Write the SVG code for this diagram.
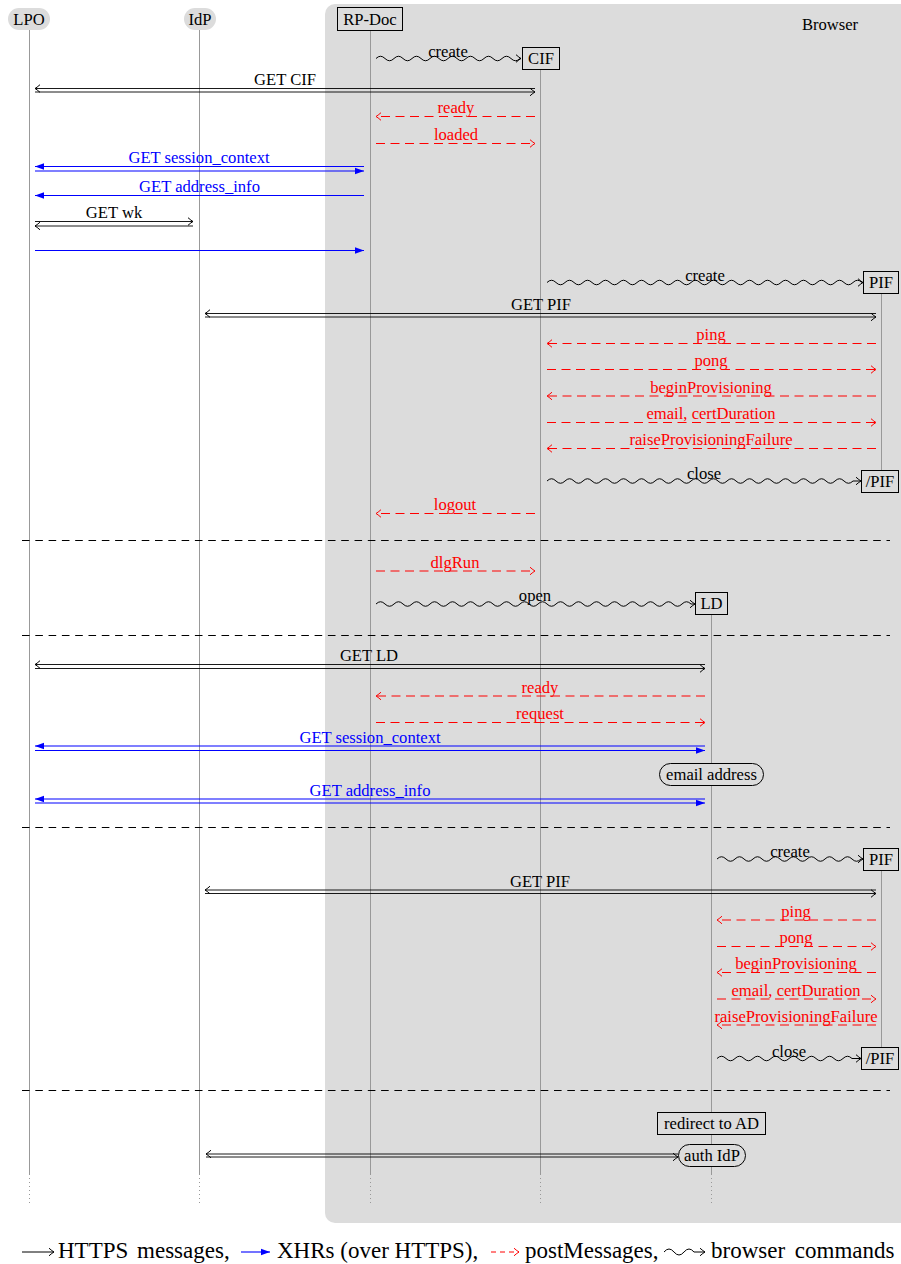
<svg xmlns="http://www.w3.org/2000/svg" width="901" height="1264" viewBox="0 0 901 1264">
<style>
text{font-family:'Liberation Serif','DejaVu Serif',serif;font-size:16.6px;fill:#000;text-anchor:middle}
.r{fill:#f00}
.b{fill:#00f}
.lg{font-size:23px;text-anchor:start}
.life{stroke:#999;stroke-width:1;fill:none}
.dot{stroke:#999;stroke-width:1;stroke-dasharray:1 3;fill:none}
.http{stroke:#000;stroke-width:0.9;fill:none;marker-end:url(#ak)}
.xhr{stroke:#00f;stroke-width:1.1;fill:none;marker-end:url(#ab)}
.pm{stroke:#f00;stroke-width:1;stroke-dasharray:9 5.5;fill:none;marker-end:url(#ar)}
.wave{stroke:#000;stroke-width:1;fill:none;marker-end:url(#ak)}
.sep{stroke:#000;stroke-width:1;stroke-dasharray:7.6 5.7;fill:none}
.box{fill:#dcdcdc;stroke:#000;stroke-width:1}
.pill{fill:#dcdcdc}
</style>
<defs>
<marker id="ak" markerUnits="userSpaceOnUse" viewBox="-7 -6 8 12" refX="0" refY="0" markerWidth="8" markerHeight="12" orient="auto" overflow="visible"><path d="M-5,-3.8 Q-1.8,-1 0,0 Q-1.8,1 -5,3.8" fill="none" stroke="#000" stroke-width="1"/></marker>
<marker id="ar" markerUnits="userSpaceOnUse" viewBox="-7 -6 8 12" refX="0" refY="0" markerWidth="8" markerHeight="12" orient="auto" overflow="visible"><path d="M-5,-3.8 Q-1.8,-1 0,0 Q-1.8,1 -5,3.8" fill="none" stroke="#f00" stroke-width="1"/></marker>
<marker id="ab" markerUnits="userSpaceOnUse" viewBox="-10 -5 11 10" refX="0" refY="0" markerWidth="11" markerHeight="10" orient="auto" overflow="visible"><path d="M-9,-3.2 L0,0 L-9,3.2 Z" fill="#00f"/></marker>
</defs>
<rect width="901" height="1264" fill="#fff"/>
<g id="browser">
<rect x="325" y="4" width="620" height="1219" rx="10" fill="#dcdcdc"/>
<text x="830" y="30">Browser</text>
</g>
<g id="lifelines">
<path class="life" d="M29.5,30V1175M199.5,30V1175M370.5,31V1175M540.5,70V1175M711.5,614V1175M881.5,294V470M881.5,871V1047"/>
<path class="dot" d="M29.5,1178V1203M199.5,1178V1203M370.5,1178V1203M540.5,1178V1203M711.5,1178V1203"/>
</g>
<g id="separators">
<path class="sep" d="M22,540.5H890M22,635.5H890M22,827.5H890M22,1090.5H890"/>
</g>
<g id="connectors">
<path class="wave" d="M376,58.5 q4.5,-4.5 9,0 t9,0 t9,0 t9,0 t9,0 t9,0 t9,0 t9,0 t9,0 t9,0 t9,0 t9,0 t9,0 t9,0 t9,0 t9,0 L521,58.5"/>
<path class="http" d="M535,88.5H35"/><path class="http" d="M35,92H535"/>
<path class="pm" d="M535,116.5H376"/>
<path class="pm" d="M376,143.5H535"/>
<path class="xhr" d="M364,166.5H35"/><path class="xhr" d="M35,171H364"/>
<path class="xhr" d="M364,195.5H35"/>
<path class="http" d="M35,221.5H193"/><path class="http" d="M193,226H35"/>
<path class="xhr" d="M35,250.5H364"/>
<path class="wave" d="M547,282.5 q4.5,-4.5 9,0 t9,0 t9,0 t9,0 t9,0 t9,0 t9,0 t9,0 t9,0 t9,0 t9,0 t9,0 t9,0 t9,0 t9,0 t9,0 t9,0 t9,0 t9,0 t9,0 t9,0 t9,0 t9,0 t9,0 t9,0 t9,0 t9,0 t9,0 t9,0 t9,0 t9,0 t9,0 t9,0 t9,0 t9,0 L863,282.5"/>
<path class="http" d="M876,313.5H205"/><path class="http" d="M205,317H876"/>
<path class="pm" d="M876,343.5H547"/>
<path class="pm" d="M547,369.5H876"/>
<path class="pm" d="M876,396H547"/>
<path class="pm" d="M547,422.5H876"/>
<path class="pm" d="M876,448.5H547"/>
<path class="wave" d="M547,481 q4.5,-4.5 9,0 t9,0 t9,0 t9,0 t9,0 t9,0 t9,0 t9,0 t9,0 t9,0 t9,0 t9,0 t9,0 t9,0 t9,0 t9,0 t9,0 t9,0 t9,0 t9,0 t9,0 t9,0 t9,0 t9,0 t9,0 t9,0 t9,0 t9,0 t9,0 t9,0 t9,0 t9,0 t9,0 t9,0 L861,481"/>
<path class="pm" d="M535,513.5H376"/>
<path class="pm" d="M376,571H535"/>
<path class="wave" d="M376,604 q4.5,-4.5 9,0 t9,0 t9,0 t9,0 t9,0 t9,0 t9,0 t9,0 t9,0 t9,0 t9,0 t9,0 t9,0 t9,0 t9,0 t9,0 t9,0 t9,0 t9,0 t9,0 t9,0 t9,0 t9,0 t9,0 t9,0 t9,0 t9,0 t9,0 t9,0 t9,0 t9,0 t9,0 t9,0 t9,0 t9,0 L695,604"/>
<path class="http" d="M705,664.5H35"/><path class="http" d="M35,668.5H705"/>
<path class="pm" d="M705,696H376"/>
<path class="pm" d="M376,722.5H705"/>
<path class="xhr" d="M705,746H35"/><path class="xhr" d="M35,750.5H705"/>
<path class="xhr" d="M705,799H35"/><path class="xhr" d="M35,803H705"/>
<path class="wave" d="M717,859 q4.5,-4.5 9,0 t9,0 t9,0 t9,0 t9,0 t9,0 t9,0 t9,0 t9,0 t9,0 t9,0 t9,0 t9,0 t9,0 t9,0 t9,0 L863,859"/>
<path class="http" d="M876,890H205"/><path class="http" d="M205,893.5H876"/>
<path class="pm" d="M876,920H717"/>
<path class="pm" d="M717,946.5H876"/>
<path class="pm" d="M876,972.5H717"/>
<path class="pm" d="M717,999H876"/>
<path class="pm" d="M876,1025H717"/>
<path class="wave" d="M717,1058.5 q4.5,-4.5 9,0 t9,0 t9,0 t9,0 t9,0 t9,0 t9,0 t9,0 t9,0 t9,0 t9,0 t9,0 t9,0 t9,0 t9,0 L861,1058.5"/>
<path class="http" d="M678,1154H206"/><path class="http" d="M206,1157H678"/>
</g>
<g id="labels">
<text x="448" y="56.5">create</text>
<text x="285" y="85">GET CIF</text>
<text class="r" x="456" y="113">ready</text>
<text class="r" x="456" y="140">loaded</text>
<text class="b" x="199" y="163">GET session_context</text>
<text class="b" x="199.5" y="192">GET address_info</text>
<text x="114" y="218">GET wk</text>
<text x="705" y="280.5">create</text>
<text x="541" y="310">GET PIF</text>
<text class="r" x="711" y="340">ping</text>
<text class="r" x="711" y="366">pong</text>
<text class="r" x="711" y="392.5">beginProvisioning</text>
<text class="r" x="711" y="419">email, certDuration</text>
<text class="r" x="711" y="445">raiseProvisioningFailure</text>
<text x="704" y="479">close</text>
<text class="r" x="455" y="510">logout</text>
<text class="r" x="455" y="567.5">dlgRun</text>
<text x="535" y="601">open</text>
<text x="369" y="661">GET LD</text>
<text class="r" x="540" y="692.5">ready</text>
<text class="r" x="540" y="719">request</text>
<text class="b" x="370" y="742.5">GET session_context</text>
<text class="b" x="370" y="795.5">GET address_info</text>
<text x="790" y="857">create</text>
<text x="540" y="886.5">GET PIF</text>
<text class="r" x="796" y="916.5">ping</text>
<text class="r" x="796" y="943">pong</text>
<text class="r" x="796" y="969">beginProvisioning</text>
<text class="r" x="796" y="995.5">email, certDuration</text>
<text class="r" x="796" y="1021.5">raiseProvisioningFailure</text>
<text x="789" y="1056.5">close</text>
</g>
<g id="node-LPO"><rect class="pill" x="8" y="8" width="42" height="22" rx="11"/><text x="29" y="25">LPO</text></g>
<g id="node-IdP"><rect class="pill" x="184" y="8" width="32" height="22" rx="11"/><text x="200" y="25">IdP</text></g>
<g id="node-RPDoc"><rect class="box" x="337.5" y="7.5" width="65" height="23"/><text x="370" y="25">RP-Doc</text></g>
<g id="node-CIF"><rect class="box" x="522.5" y="47.5" width="37" height="22"/><text x="541" y="64">CIF</text></g>
<g id="node-PIF1"><rect class="box" x="863.5" y="271.5" width="35" height="22"/><text x="881" y="288">PIF</text></g>
<g id="node-PIF1-end"><rect class="box" x="861.5" y="470.5" width="37" height="22"/><text x="880" y="487">/PIF</text></g>
<g id="node-LD"><rect class="box" x="695.5" y="592.5" width="32" height="22"/><text x="711.5" y="609">LD</text></g>
<g id="node-email"><rect class="box" x="659.5" y="763.5" width="104" height="22" rx="11"/><text x="711.5" y="780">email address</text></g>
<g id="node-PIF2"><rect class="box" x="863.5" y="848.5" width="35" height="22"/><text x="881" y="865">PIF</text></g>
<g id="node-PIF2-end"><rect class="box" x="861.5" y="1047.5" width="37" height="22"/><text x="880" y="1064">/PIF</text></g>
<g id="node-redirect"><rect class="box" x="657.5" y="1112.5" width="108" height="22"/><text x="711.5" y="1129">redirect to AD</text></g>
<g id="node-authIdP"><rect class="box" x="678.5" y="1144.5" width="67" height="22" rx="11"/><text x="712" y="1161">auth IdP</text></g>
<g id="legend">
<path d="M22,1252H54" stroke="#000" stroke-width="1" fill="none" marker-end="url(#ak)"/>
<text class="lg" x="58" y="1258" word-spacing="3">HTTPS messages,</text>
<path d="M241,1252H270" stroke="#00f" stroke-width="1.1" fill="none" marker-end="url(#ab)"/>
<text class="lg" x="277" y="1258">XHRs (over HTTPS),</text>
<path d="M491,1252H519" stroke="#f00" stroke-width="1" stroke-dasharray="5 4" fill="none" marker-end="url(#ar)"/>
<text class="lg" x="525" y="1258">postMessages,</text>
<path d="M664,1252 q5,-6 10,0 t10,0 t10,0 L705,1252" stroke="#000" stroke-width="1" fill="none" marker-end="url(#ak)"/>
<text class="lg" x="711" y="1258" word-spacing="4">browser commands</text>
</g>
</svg>
